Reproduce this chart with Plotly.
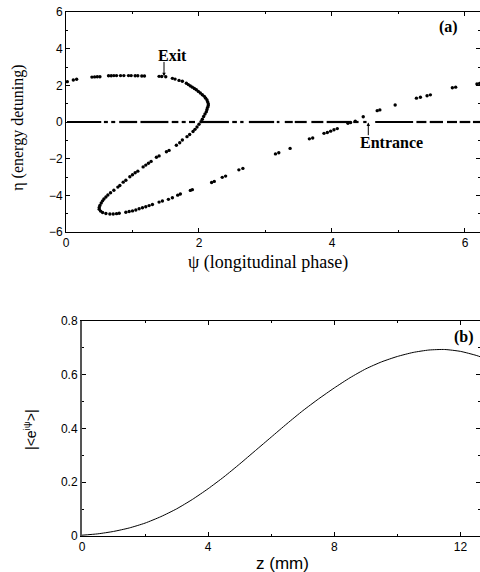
import plotly.graph_objects as go

# ---------------- data: panel (a) ----------------
# exit distribution (psi, eta)
exit_psi = [0.02, 0.11, 0.16,
            0.39, 0.43, 0.47, 0.51,
            0.64, 0.68, 0.72, 0.76, 0.82, 0.87, 0.94, 0.98, 1.04, 1.08, 1.14, 1.18,
            1.40, 1.44, 1.50,
            1.60, 1.64, 1.70, 1.75,
            1.81, 1.84, 1.87, 1.90, 1.93, 1.96, 1.99, 2.02, 2.05, 2.08, 2.10, 2.12, 2.13, 2.14,
            2.14, 2.13, 2.12, 2.11, 2.09, 2.07, 2.05, 2.03, 2.00, 1.97, 1.94, 1.91, 1.86, 1.82,
            1.75, 1.71, 1.66,
            1.55, 1.51,
            1.40, 1.36,
            1.28, 1.24, 1.20, 1.16,
            1.08, 1.04, 1.00, 0.96,
            0.90, 0.86, 0.81, 0.78,
            0.72, 0.67, 0.63, 0.60, 0.57, 0.55, 0.53, 0.51, 0.50, 0.50, 0.52, 0.55, 0.60,
            0.66, 0.71, 0.76, 0.80,
            0.90, 0.95, 1.00, 1.05, 1.10, 1.15, 1.20, 1.25, 1.30,
            1.40, 1.45,
            1.54, 1.60,
            1.68, 1.72,
            1.87, 1.90,
            2.19, 2.23,
            2.35, 2.40,
            2.60, 2.66,
            3.15, 3.20,
            3.37,
            3.66, 3.71,
            3.88, 3.93, 3.98, 4.03, 4.08,
            4.24, 4.28, 4.35,
            4.47,
            4.68, 4.72,
            4.95,
            5.27, 5.33, 5.43, 5.48,
            5.81, 5.86,
            6.18, 6.22]
exit_eta = [2.20, 2.29, 2.33,
            2.45, 2.46, 2.47, 2.47,
            2.52, 2.52, 2.53, 2.53, 2.53, 2.53, 2.53, 2.53, 2.52, 2.52, 2.51, 2.51,
            2.49, 2.48, 2.47,
            2.38, 2.34, 2.27, 2.22,
            2.11, 2.04, 1.97, 1.90, 1.83, 1.76, 1.67, 1.58, 1.49, 1.40, 1.30, 1.20, 1.10, 1.00,
            0.90, 0.80, 0.68, 0.56, 0.44, 0.30, 0.15, 0.02, -0.12, -0.27, -0.40, -0.52, -0.68, -0.80,
            -0.98, -1.13, -1.27,
            -1.55, -1.62,
            -1.85, -1.92,
            -2.15, -2.25, -2.35, -2.45,
            -2.68, -2.77, -2.88, -2.99,
            -3.18, -3.28, -3.46, -3.55,
            -3.72, -3.86, -3.98, -4.09, -4.20, -4.30, -4.42, -4.55, -4.66, -4.76, -4.86, -4.94, -4.99,
            -5.02, -5.02, -5.00, -4.98,
            -4.92, -4.88, -4.85, -4.80, -4.73, -4.68, -4.62, -4.56, -4.50,
            -4.37, -4.31,
            -4.22, -4.13,
            -3.99, -3.93,
            -3.73, -3.69,
            -3.30, -3.24,
            -3.02, -2.95,
            -2.61, -2.53,
            -1.74, -1.68,
            -1.44,
            -0.92, -0.87,
            -0.62, -0.57, -0.50, -0.42, -0.36,
            -0.07, -0.03, 0.05,
            0.29,
            0.62, 0.66,
            0.93,
            1.30, 1.35, 1.43, 1.48,
            1.87, 1.90,
            2.07, 2.10]

# entrance distribution at eta = 0: runs of particles (start, end in psi)
entr_start = [0.015, 0.57, 0.68, 0.80, 1.12, 1.59, 1.74, 1.85, 2.02, 2.50, 2.62, 2.75,
              3.17, 3.29, 3.44, 3.69, 3.92, 4.32, 4.47, 4.65, 5.27, 5.47, 5.73, 5.92, 6.12]
entr_end = [0.53, 0.63, 0.74, 1.07, 1.54, 1.69, 1.80, 1.94, 2.45, 2.57, 2.67, 3.13,
            3.21, 3.41, 3.62, 3.87, 4.27, 4.40, 4.52, 5.22, 5.42, 5.67, 5.88, 6.08, 6.28]

# ---------------- data: panel (b) ----------------
z_mm = [0, 0.5, 1, 1.5, 2, 2.5, 3, 3.5, 4, 4.5, 5, 5.5, 6, 6.5, 7, 7.5, 8, 8.5, 9,
        9.5, 10, 10.5, 11, 11.5, 12, 12.5, 12.7]
bunching = [0.003, 0.008, 0.017, 0.030, 0.048, 0.072, 0.101, 0.136, 0.176, 0.220, 0.268,
            0.318, 0.368, 0.418, 0.466, 0.510, 0.551, 0.589, 0.622, 0.648, 0.668, 0.683,
            0.692, 0.694, 0.687, 0.672, 0.664]

a_xticks = [0, 2, 4, 6]
a_yticks = [-6, -4, -2, 0, 2, 4, 6]
b_xticks = [0, 4, 8, 12]
b_yticks = [0, 0.2, 0.4, 0.6, 0.8]
b_ylabels = ["0", "0.2", "0.4", "0.6", "0.8"]

# ---------------- figure ----------------
W, H = 480, 572
fig = go.Figure()

ex, ey = [], []
for s, e in zip(entr_start, entr_end):
    ex += [s, e, None]
    ey += [0, 0, None]
fig.add_trace(go.Scatter(x=ex, y=ey, mode="lines", line=dict(color="black", width=2.2),
                         xaxis="x", yaxis="y", showlegend=False, hoverinfo="skip"))
fig.add_trace(go.Scatter(x=exit_psi, y=exit_eta, mode="markers",
                         marker=dict(color="black", size=3.4, line=dict(width=0)),
                         xaxis="x", yaxis="y", showlegend=False))
fig.add_trace(go.Scatter(x=z_mm, y=bunching, mode="lines", line=dict(color="black", width=1, shape="spline", smoothing=0.6),
                         xaxis="x2", yaxis="y2", showlegend=False))

tickfont = dict(family="Liberation Sans, Arial, sans-serif", size=12, color="black")
common = dict(showgrid=False, zeroline=False, showline=True, linecolor="black", linewidth=1,
              ticks="inside", ticklen=4, tickcolor="black", tickwidth=1, mirror="ticks",
              tickfont=tickfont, automargin=False)
minor_a = dict(ticks="inside", ticklen=2, tickcolor="black", tickwidth=1)

fig.update_layout(
    width=W, height=H, autosize=False,
    margin=dict(l=0, r=0, t=0, b=0, pad=0, autoexpand=False),
    paper_bgcolor="white", plot_bgcolor="white",
    xaxis=dict(domain=[66 / W, 1], range=[0, 6.226], anchor="y",
               tickvals=a_xticks, ticktext=[str(v) for v in a_xticks],
               minor=dict(dtick=1, **minor_a), **common),
    yaxis=dict(domain=[1 - 232 / H, 1 - 12 / H], range=[-6, 6], anchor="x",
               tickvals=a_yticks, ticktext=[str(v).replace("-", "\u2212") for v in a_yticks],
               minor=dict(dtick=1, **minor_a), **common),
    xaxis2=dict(domain=[82 / W, 1], range=[0, 12.62], anchor="y2",
                tickvals=b_xticks, ticktext=[str(v) for v in b_xticks],
                minor=dict(dtick=2, **minor_a), **common),
    yaxis2=dict(domain=[1 - 536 / H, 1 - 321 / H], range=[0, 0.8], anchor="x2",
                tickvals=b_yticks, ticktext=b_ylabels,
                minor=dict(dtick=0.1, **minor_a), **common),
)
fig.update_yaxes(selector=dict(anchor="x2"), linecolor="#555555", linewidth=2)

serif_b = dict(family="Liberation Serif, Times New Roman, serif", size=16, color="black")
serif = dict(family="Liberation Serif, Times New Roman, serif", color="black")
sans = dict(family="Liberation Sans, Arial, sans-serif", color="black")

arrow_style = dict(showarrow=True, arrowhead=2, arrowsize=0.7, arrowwidth=1, arrowcolor="black",
                   standoff=0, startstandoff=0, axref="x", ayref="y", xref="x", yref="y")
ann = [
    dict(text="<b>(a)</b>", x=5.75, y=5.2, xref="x", yref="y", showarrow=False, font=serif_b),
    dict(text="<b>Exit</b>", x=1.60, y=3.65, xref="x", yref="y", showarrow=False, font=serif_b),
    dict(text="", x=1.474, y=2.50, ax=1.474, ay=3.36, **arrow_style),
    dict(text="<b>Entrance</b>", x=4.90, y=-1.13, xref="x", yref="y", showarrow=False, font=serif_b),
    dict(text="", x=4.546, y=-0.03, ax=4.546, ay=-0.80, **arrow_style),
    dict(text="<b>(b)</b>", x=12.1, y=0.74, xref="x2", yref="y2", showarrow=False, font=serif_b),
    dict(text="\u03c8 (longitudinal phase)", x=267.5 / W, y=1 - 262 / H, xref="paper", yref="paper",
         showarrow=False, font=dict(size=18, **serif), xanchor="center", yanchor="middle"),
    dict(text="\u03b7 (energy detuning)", x=18.5 / W, y=1 - 128.3 / H, xref="paper", yref="paper",
         showarrow=False, font=dict(size=16, **serif), textangle=-90, xanchor="center", yanchor="middle"),
    dict(text="z (mm)", x=282 / W, y=1 - 563 / H, xref="paper", yref="paper",
         showarrow=False, font=dict(size=17, **sans), xanchor="center", yanchor="middle"),
    dict(text="|&lt;e<sup>i\u03c8</sup>&gt;|", x=30 / W, y=1 - 430 / H, xref="paper", yref="paper",
         showarrow=False, font=dict(size=14, **sans), textangle=-90, xanchor="center", yanchor="middle"),
]
fig.update_layout(annotations=ann)

fig.write_html("out.html", config={"displayModeBar": False},
               post_script="document.body.style.margin='0px';")
